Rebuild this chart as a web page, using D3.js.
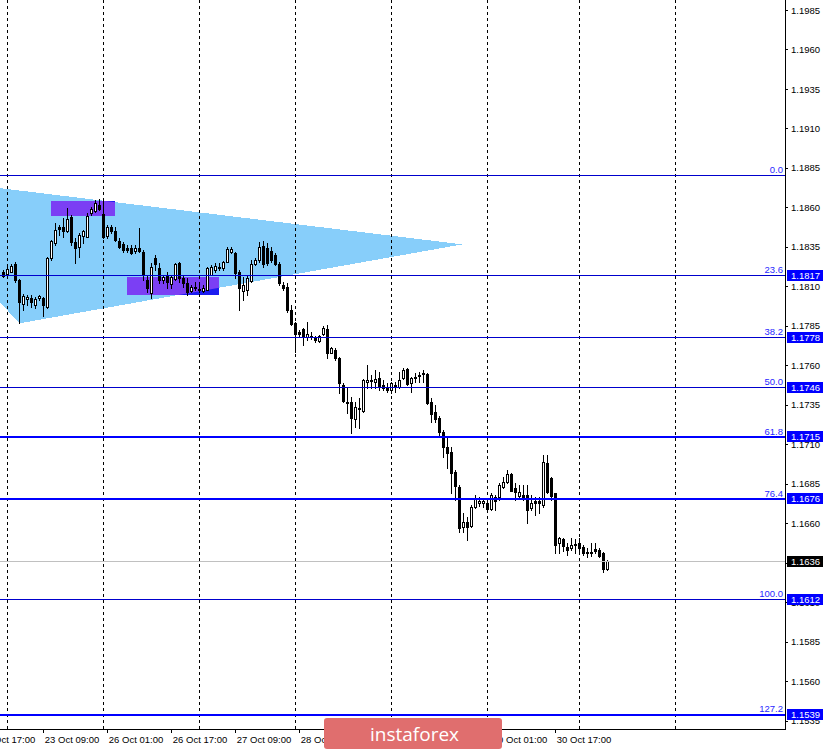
<!DOCTYPE html>
<html>
<head>
<meta charset="utf-8">
<script src="https://cdn.jsdelivr.net/npm/d3@7"></script>
<style>
  body { margin: 0; background: #fff; }
  svg { display: block; }
</style>
</head>
<body>
<svg id="chart" width="826" height="750"></svg>
<script>
// EURUSD H1 candles (bar 0 = left edge)
const opens = [
  1.18193, 1.18176, 1.18193, 1.18242, 1.18140, 1.17987, 1.18020, 1.18025, 1.17982, 1.18025,
  1.18025, 1.17971, 1.18278, 1.18377, 1.18478, 1.18474, 1.18453, 1.18539, 1.18383, 1.18351,
  1.18421, 1.18415, 1.18563, 1.18577, 1.18615, 1.18558, 1.18421, 1.18478, 1.18451, 1.18389,
  1.18366, 1.18341, 1.18341, 1.18324, 1.18341, 1.18320, 1.18140, 1.18056, 1.18278, 1.18218,
  1.18140, 1.18168, 1.18113, 1.18145, 1.18250, 1.18151, 1.18123, 1.18071, 1.18088, 1.18083,
  1.18071, 1.18077, 1.18172, 1.18204, 1.18214, 1.18214, 1.18256, 1.18316, 1.18309, 1.18193,
  1.18071, 1.18077, 1.18134, 1.18240, 1.18267, 1.18356, 1.18341, 1.18324, 1.18299, 1.18240,
  1.18109, 1.18098, 1.17950, 1.17866, 1.17813, 1.17828, 1.17781, 1.17786, 1.17771, 1.17756,
  1.17798, 1.17828, 1.17680, 1.17697, 1.17645, 1.17476, 1.17370, 1.17370, 1.17258, 1.17322,
  1.17313, 1.17496, 1.17507, 1.17496, 1.17518, 1.17476, 1.17458, 1.17444, 1.17469, 1.17461,
  1.17518, 1.17575, 1.17490, 1.17518, 1.17533, 1.17543, 1.17545, 1.17368, 1.17305, 1.17265,
  1.17178, 1.17083, 1.17053, 1.16927, 1.16832, 1.16578, 1.16608, 1.16583, 1.16701, 1.16730,
  1.16730, 1.16730, 1.16688, 1.16768, 1.16764, 1.16832, 1.16863, 1.16912, 1.16821, 1.16773,
  1.16779, 1.16779, 1.16695, 1.16743, 1.16743, 1.16716, 1.16980, 1.16885, 1.16790, 1.16477,
  1.16499, 1.16452, 1.16442, 1.16462, 1.16477, 1.16452, 1.16420, 1.16418, 1.16435, 1.16431,
  1.16414, 1.16309
];
const highs = [
  1.18204, 1.18235, 1.18242, 1.18254, 1.18147, 1.18050, 1.18045, 1.18045, 1.18035, 1.18045,
  1.18035, 1.18288, 1.18394, 1.18499, 1.18489, 1.18531, 1.18594, 1.18552, 1.18404, 1.18436,
  1.18457, 1.18563, 1.18605, 1.18647, 1.18653, 1.18647, 1.18489, 1.18489, 1.18478, 1.18404,
  1.18383, 1.18362, 1.18362, 1.18362, 1.18468, 1.18330, 1.18172, 1.18246, 1.18299, 1.18246,
  1.18172, 1.18193, 1.18172, 1.18246, 1.18256, 1.18172, 1.18151, 1.18109, 1.18130, 1.18109,
  1.18109, 1.18225, 1.18235, 1.18246, 1.18246, 1.18261, 1.18351, 1.18351, 1.18316, 1.18204,
  1.18161, 1.18172, 1.18267, 1.18278, 1.18383, 1.18387, 1.18373, 1.18351, 1.18309, 1.18256,
  1.18130, 1.18119, 1.17982, 1.17876, 1.17824, 1.17835, 1.17876, 1.17813, 1.17786, 1.17792,
  1.17849, 1.17855, 1.17718, 1.17708, 1.17655, 1.17486, 1.17465, 1.17401, 1.17370, 1.17391,
  1.17514, 1.17602, 1.17539, 1.17571, 1.17560, 1.17507, 1.17486, 1.17496, 1.17496, 1.17560,
  1.17581, 1.17581, 1.17528, 1.17550, 1.17560, 1.17571, 1.17550, 1.17391, 1.17349, 1.17281,
  1.17191, 1.17148, 1.17085, 1.16937, 1.16842, 1.16663, 1.16642, 1.16716, 1.16779, 1.16768,
  1.16758, 1.16747, 1.16790, 1.16779, 1.16853, 1.16895, 1.16937, 1.16920, 1.16853, 1.16842,
  1.16842, 1.16842, 1.16779, 1.16768, 1.16768, 1.17032, 1.17032, 1.16895, 1.16794, 1.16515,
  1.16505, 1.16477, 1.16505, 1.16499, 1.16505, 1.16462, 1.16442, 1.16473, 1.16477, 1.16442,
  1.16420, 1.16367
];
const lows = [
  1.18161, 1.18161, 1.18191, 1.18128, 1.17866, 1.17950, 1.17982, 1.17971, 1.17961, 1.18014,
  1.17914, 1.17965, 1.18267, 1.18362, 1.18425, 1.18415, 1.18446, 1.18362, 1.18246, 1.18288,
  1.18373, 1.18413, 1.18552, 1.18573, 1.18584, 1.18404, 1.18404, 1.18436, 1.18389, 1.18341,
  1.18320, 1.18320, 1.18307, 1.18309, 1.18320, 1.18140, 1.18066, 1.18025, 1.18204, 1.18119,
  1.18119, 1.18088, 1.18088, 1.18140, 1.18130, 1.18098, 1.18045, 1.18066, 1.18077, 1.18066,
  1.18066, 1.18074, 1.18169, 1.18193, 1.18204, 1.18204, 1.18252, 1.18309, 1.18151, 1.17950,
  1.18014, 1.18045, 1.18130, 1.18235, 1.18256, 1.18225, 1.18235, 1.18256, 1.18235, 1.18109,
  1.18077, 1.17938, 1.17855, 1.17686, 1.17781, 1.17729, 1.17760, 1.17765, 1.17750, 1.17750,
  1.17792, 1.17645, 1.17676, 1.17634, 1.17423, 1.17370, 1.17296, 1.17173, 1.17211, 1.17201,
  1.17306, 1.17455, 1.17455, 1.17455, 1.17444, 1.17444, 1.17433, 1.17427, 1.17433, 1.17455,
  1.17512, 1.17476, 1.17433, 1.17496, 1.17496, 1.17496, 1.17353, 1.17243, 1.17243, 1.17148,
  1.17020, 1.16948, 1.16790, 1.16747, 1.16547, 1.16547, 1.16494, 1.16578, 1.16695, 1.16709,
  1.16701, 1.16684, 1.16684, 1.16684, 1.16747, 1.16821, 1.16853, 1.16802, 1.16747, 1.16752,
  1.16747, 1.16600, 1.16684, 1.16652, 1.16663, 1.16701, 1.16790, 1.16747, 1.16410, 1.16410,
  1.16426, 1.16399, 1.16431, 1.16410, 1.16426, 1.16399, 1.16385, 1.16393, 1.16410, 1.16385,
  1.16293, 1.16304
];
const closes = [
  1.18168, 1.18210, 1.18229, 1.18140, 1.17999, 1.18039, 1.18035, 1.17999, 1.18020, 1.18039,
  1.17982, 1.18278, 1.18387, 1.18457, 1.18463, 1.18451, 1.18525, 1.18383, 1.18345, 1.18425,
  1.18451, 1.18548, 1.18590, 1.18626, 1.18590, 1.18415, 1.18474, 1.18451, 1.18394, 1.18351,
  1.18330, 1.18330, 1.18309, 1.18341, 1.18324, 1.18172, 1.18088, 1.18225, 1.18240, 1.18140,
  1.18161, 1.18130, 1.18161, 1.18240, 1.18155, 1.18119, 1.18066, 1.18098, 1.18098, 1.18077,
  1.18092, 1.18214, 1.18225, 1.18231, 1.18225, 1.18252, 1.18337, 1.18337, 1.18183, 1.18088,
  1.18109, 1.18151, 1.18240, 1.18267, 1.18351, 1.18240, 1.18246, 1.18267, 1.18240, 1.18119,
  1.18088, 1.17950, 1.17860, 1.17797, 1.17798, 1.17781, 1.17798, 1.17778, 1.17760, 1.17786,
  1.17835, 1.17676, 1.17708, 1.17645, 1.17486, 1.17376, 1.17360, 1.17265, 1.17338, 1.17332,
  1.17507, 1.17507, 1.17501, 1.17512, 1.17461, 1.17455, 1.17444, 1.17486, 1.17476, 1.17507,
  1.17571, 1.17482, 1.17518, 1.17524, 1.17539, 1.17550, 1.17360, 1.17292, 1.17258, 1.17178,
  1.17083, 1.17043, 1.16916, 1.16836, 1.16568, 1.16610, 1.16578, 1.16701, 1.16752, 1.16743,
  1.16743, 1.16688, 1.16779, 1.16743, 1.16842, 1.16863, 1.16912, 1.16806, 1.16800, 1.16800,
  1.16768, 1.16684, 1.16730, 1.16726, 1.16726, 1.16990, 1.16800, 1.16773, 1.16462, 1.16505,
  1.16456, 1.16431, 1.16462, 1.16469, 1.16442, 1.16414, 1.16410, 1.16410, 1.16426, 1.16393,
  1.16309, 1.16362
];

// time axis: bar index of each label
const timeBars = [-6, 10, 26, 42, 58, 74, 90, 106, 122, 138];
const timeLabels = ['22 Oct 17:00', '23 Oct 09:00', '26 Oct 01:00', '26 Oct 17:00', '27 Oct 09:00',
  '28 Oct 01:00', '28 Oct 17:00', '29 Oct 09:00', '30 Oct 01:00', '30 Oct 17:00'];
const gridBars = [1, 25, 49, 73, 97, 121, 144, 168];

const priceTicks = [1.1985, 1.1960, 1.1935, 1.1910, 1.1885, 1.1860, 1.1835, 1.1810, 1.1785, 1.1760,
  1.1735, 1.1710, 1.1685, 1.1660, 1.1635, 1.1610, 1.1585, 1.1560, 1.1535];

// fibonacci grid
const fiboFrom = 1.18805;
const fiboTo = 1.16120;
const fiboLevels = [0, 23.6, 38.2, 50, 61.8, 76.4, 100, 127.2];
const fiboTexts = ['0.0', '23.6', '38.2', '50.0', '61.8', '76.4', '100.0', '127.2'];
const hLines = [1.1715, 1.1676, 1.1539];
const priceTags = [1.1817, 1.1778, 1.1746, 1.1715, 1.1676, 1.1612, 1.1539];
const lastPrice = 1.1636;

// drawings: triangle (bar, price) and two rectangles
const triangle = [[-30.1, 1.18812], [4, 1.17866], [114.8, 1.18366]];
const boxFrom = [12, 31];
const boxTo = [28, 54];
const boxTop = [1.18641, 1.18157];
const boxBottom = [1.18548, 1.18045];

const W = 826, H = 750;
const plotRight = 785, plotBottom = 729;
const font = '"Liberation Sans", Arial, sans-serif';

const x = d3.scaleLinear().domain([0, 151]).range([3.3, 607.3]);
const y = d3.scaleLinear().domain([1.1985, 1.1535]).range([10, 720.7]);
const px = v => Math.round(x(v));
const py = v => Math.round(y(v));

const svg = d3.select('#chart')
  .attr('shape-rendering', 'crispEdges')
  .style('font-family', font);

svg.append('rect').attr('width', W).attr('height', H).attr('fill', '#fff');

const plot = svg.append('g');

// triangle
const triPoints = triangle.map(d => [x(d[0]), y(d[1])]);
plot.append('polygon')
  .attr('points', triPoints.map(p => p.join(',')).join(' '))
  .attr('fill', '#87cefa');

svg.append('clipPath').attr('id', 'tri')
  .append('polygon')
  .attr('points', triPoints.map(p => p.join(',')).join(' '));

// rectangles: blue, purple where they sit on the triangle
boxFrom.forEach((b, k) => {
  const rx = px(boxFrom[k]), rw = px(boxTo[k]) - rx;
  const ry = py(boxTop[k]), rh = py(boxBottom[k]) - ry;
  plot.append('rect').attr('x', rx).attr('y', ry).attr('width', rw).attr('height', rh)
    .attr('fill', '#1c1cf0');
  plot.append('rect').attr('x', rx).attr('y', ry).attr('width', rw).attr('height', rh)
    .attr('fill', '#7b3ff4').attr('clip-path', 'url(#tri)');
});

// vertical dashed grid
plot.append('g').selectAll('line')
  .data(gridBars)
  .join('line')
  .attr('x1', d => px(d) + 0.5).attr('x2', d => px(d) + 0.5)
  .attr('y1', 0).attr('y2', plotBottom)
  .attr('stroke', '#000')
  .attr('stroke-dasharray', '3,3');

// candles
const bars = opens.map((o, i) => ({ i, o, h: highs[i], l: lows[i], c: closes[i] }));
const gCandle = plot.append('g');
gCandle.selectAll('rect.wick')
  .data(bars)
  .join('rect')
  .attr('class', 'wick')
  .attr('x', d => px(d.i))
  .attr('y', d => py(d.h))
  .attr('width', 1)
  .attr('height', d => py(d.l) - py(d.h) + 1)
  .attr('fill', '#000');

gCandle.selectAll('rect.down')
  .data(bars.filter(d => d.c < d.o))
  .join('rect')
  .attr('class', 'down')
  .attr('x', d => px(d.i) - 1)
  .attr('y', d => py(d.o))
  .attr('width', 3)
  .attr('height', d => py(d.c) - py(d.o) + 1)
  .attr('fill', '#000');

gCandle.selectAll('rect.up')
  .data(bars.filter(d => d.c >= d.o))
  .join('rect')
  .attr('class', 'up')
  .attr('x', d => px(d.i) - 0.5)
  .attr('y', d => py(d.c) + 0.5)
  .attr('width', 2)
  .attr('height', d => Math.max(py(d.o) - py(d.c), 0))
  .attr('fill', '#fff')
  .attr('stroke', '#000');

// current price line
plot.append('line')
  .attr('x1', 0).attr('x2', plotRight)
  .attr('y1', py(lastPrice) + 0.5).attr('y2', py(lastPrice) + 0.5)
  .attr('stroke', '#c0c0c0');

// fibo levels
const fiboPrice = lv => fiboFrom + (fiboTo - fiboFrom) * lv / 100;
plot.append('g').selectAll('line')
  .data(fiboLevels)
  .join('line')
  .attr('x1', 0).attr('x2', plotRight)
  .attr('y1', d => py(fiboPrice(d)) + 0.5).attr('y2', d => py(fiboPrice(d)) + 0.5)
  .attr('stroke', '#0000cd');

plot.append('g').selectAll('text')
  .data(fiboLevels)
  .join('text')
  .attr('x', plotRight - 2)
  .attr('y', d => py(fiboPrice(d)) - 2)
  .attr('text-anchor', 'end')
  .attr('font-size', 9.5)
  .attr('fill', '#2828ff')
  .text((d, k) => fiboTexts[k]);

// thick horizontal lines
plot.append('g').selectAll('line')
  .data(hLines)
  .join('line')
  .attr('x1', 0).attr('x2', plotRight)
  .attr('y1', d => py(d) + 1).attr('y2', d => py(d) + 1)
  .attr('stroke', '#0000ff')
  .attr('stroke-width', 2);

// borders
svg.append('line').attr('x1', plotRight + 0.5).attr('x2', plotRight + 0.5)
  .attr('y1', 0).attr('y2', plotBottom + 1).attr('stroke', '#000');
svg.append('line').attr('x1', 0).attr('x2', plotRight + 1)
  .attr('y1', plotBottom + 0.5).attr('y2', plotBottom + 0.5).attr('stroke', '#000');

// price axis
const yAxis = svg.append('g')
  .attr('transform', `translate(${plotRight},0)`)
  .call(d3.axisRight(y).tickValues(priceTicks).tickSize(3).tickFormat(d3.format('.4f')));
yAxis.select('.domain').remove();
yAxis.selectAll('text').attr('font-size', 9.5).attr('font-family', font).attr('fill', '#000');

// price tags
const tags = svg.append('g');
const tagData = priceTags.map(p => ({ p, bg: '#0000ff' })).concat([{ p: lastPrice, bg: '#000' }]);
tags.selectAll('rect')
  .data(tagData)
  .join('rect')
  .attr('x', plotRight + 2)
  .attr('y', d => py(d.p) - 5)
  .attr('width', 36)
  .attr('height', 11)
  .attr('fill', d => d.bg);
tags.selectAll('text')
  .data(tagData)
  .join('text')
  .attr('x', plotRight + 6)
  .attr('y', d => py(d.p) + 0.5)
  .attr('dy', '0.35em')
  .attr('font-size', 9.5)
  .attr('fill', '#fff')
  .text(d => d3.format('.4f')(d.p));

// time axis
const xAxis = svg.append('g')
  .attr('transform', `translate(0,${plotBottom})`)
  .call(d3.axisBottom(x).tickValues(timeBars).tickSize(4).tickFormat((d, k) => timeLabels[k]));
xAxis.select('.domain').remove();
xAxis.selectAll('text')
  .attr('text-anchor', 'start')
  .attr('x', 1)
  .attr('font-size', 9.5)
  .attr('font-family', font)
  .attr('fill', '#000');

// watermark logo
const logo = svg.append('g').attr('shape-rendering', 'auto');
logo.append('rect')
  .attr('x', 324).attr('y', 718).attr('width', 178).attr('height', 31).attr('rx', 3)
  .attr('fill', '#e06e6e');
logo.append('text')
  .attr('x', 370).attr('y', 741)
  .attr('font-family', '"Open Sans", sans-serif')
  .attr('font-size', 19)
  .attr('fill', '#fff')
  .text('instaforex');
</script>
</body>
</html>
